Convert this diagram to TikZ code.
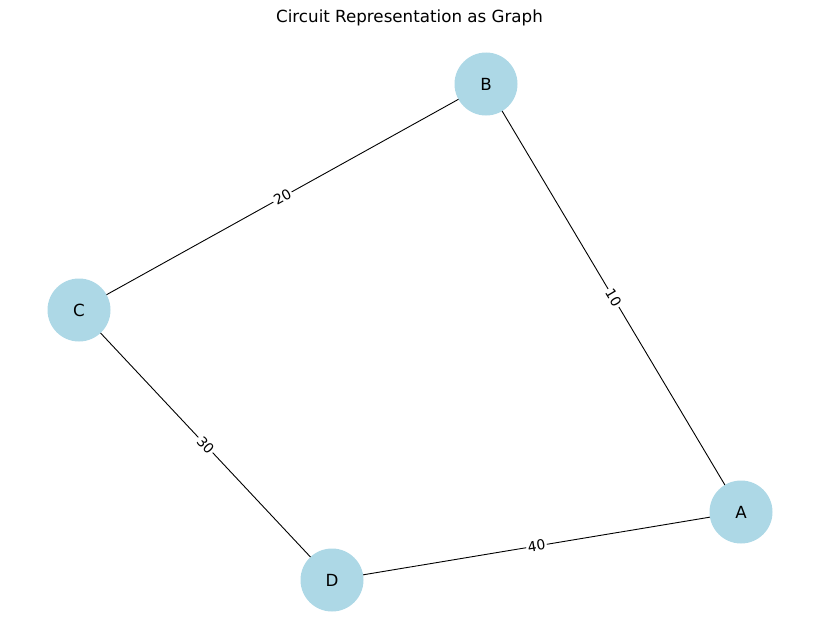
\documentclass[tikz,border=0pt]{standalone}
\usepackage{fontspec}
\setmainfont{DejaVu Sans}
\usepackage{tikz}
\usetikzlibrary{positioning, calc}
\definecolor{nodeblue}{RGB}{173,216,230}

\begin{document}
\begin{tikzpicture}[x=1pt, y=-1pt,
                vertex/.style={circle, fill=nodeblue, minimum size=63pt, inner sep=0pt, outer sep=0pt, font=\fontsize{16.7}{20}\selectfont},
                wire/.style={draw=black, line width=0.9pt},
                weight/.style={fill=white, inner sep=1.5pt, sloped, font=\fontsize{13.9}{16}\selectfont}]
                \useasboundingbox (0,0) rectangle (819,642);
                % タイトル
                \node[font=\fontsize{16.7}{20}\selectfont] (title) at (409.5,18) {Circuit Representation as Graph};

                % 頂点の描画
                \node[vertex] (A) at (741,512) {A};
                \node[vertex] (B) at (486,84) {B};
                \node[vertex] (C) at (79,310) {C};
                \node[vertex] (D) at (332,580) {D};

                % 辺の描画 (重み付き)
                \draw[wire] (B) -- node[weight]{20} (C);
                \draw[wire] (B) -- node[weight]{10} (A);
                \draw[wire] (C) -- node[weight]{30} (D);
                \draw[wire] (D) -- node[weight]{40} (A);
            \end{tikzpicture}
\end{document}
